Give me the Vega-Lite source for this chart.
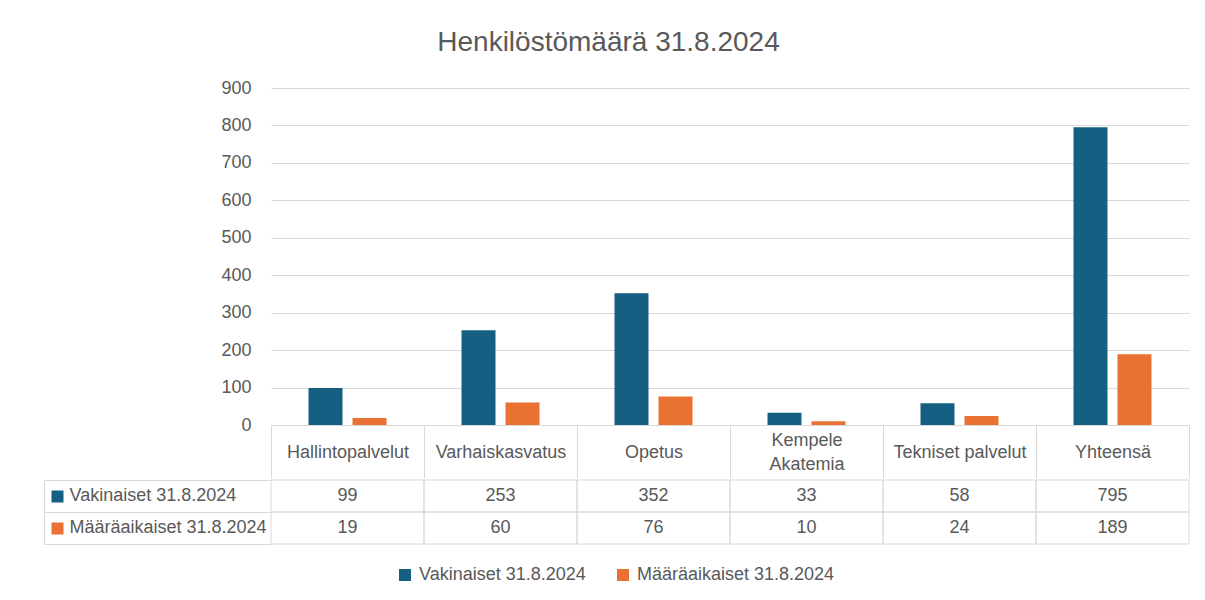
{
  "$schema": "https://vega.github.io/schema/vega-lite/v6.json",
  "padding": {"left": 43, "top": 29, "right": 5, "bottom": 5},
  "background": "white",
  "config": {
    "font": "Liberation Sans",
    "view": {"stroke": null},
    "axis": {"labelFont": "Liberation Sans"},
    "legend": {"labelFont": "Liberation Sans"}
  },
  "title": {
    "text": "Henkilöstömäärä 31.8.2024",
    "fontSize": 28,
    "fontWeight": "normal",
    "color": "#595959",
    "anchor": "middle",
    "frame": "bounds",
    "offset": 22,
    "dx": -8
  },
  "data": {
    "values": [
      {"category": "Hallintopalvelut", "series": "Vakinaiset 31.8.2024", "value": 99},
      {"category": "Varhaiskasvatus", "series": "Vakinaiset 31.8.2024", "value": 253},
      {"category": "Opetus", "series": "Vakinaiset 31.8.2024", "value": 352},
      {"category": "Kempele Akatemia", "series": "Vakinaiset 31.8.2024", "value": 33},
      {"category": "Tekniset palvelut", "series": "Vakinaiset 31.8.2024", "value": 58},
      {"category": "Yhteensä", "series": "Vakinaiset 31.8.2024", "value": 795},
      {"category": "Hallintopalvelut", "series": "Määräaikaiset 31.8.2024", "value": 19},
      {"category": "Varhaiskasvatus", "series": "Määräaikaiset 31.8.2024", "value": 60},
      {"category": "Opetus", "series": "Määräaikaiset 31.8.2024", "value": 76},
      {"category": "Kempele Akatemia", "series": "Määräaikaiset 31.8.2024", "value": 10},
      {"category": "Tekniset palvelut", "series": "Määräaikaiset 31.8.2024", "value": 24},
      {"category": "Yhteensä", "series": "Määräaikaiset 31.8.2024", "value": 189}
    ]
  },
  "spacing": 0,
  "resolve": {"scale": {"x": "independent", "y": "independent"}},
  "vconcat": [
    {
      "width": 918,
      "height": 337,
      "mark": {"type": "bar"},
      "encoding": {
        "x": {
          "field": "category",
          "type": "nominal",
          "sort": ["Hallintopalvelut", "Varhaiskasvatus", "Opetus", "Kempele Akatemia", "Tekniset palvelut", "Yhteensä"],
          "scale": {"paddingInner": 0, "paddingOuter": 0},
          "axis": {
            "title": null,
            "orient": "bottom",
            "domain": true,
            "domainColor": "#d9d9d9",
            "domainWidth": 1,
            "ticks": true,
            "tickBand": "extent",
            "tickSize": 53,
            "tickColor": "#d9d9d9",
            "tickWidth": 1,
            "labelFontSize": 18,
            "labelColor": "#595959",
            "labelPadding": {
              "condition": {"test": "datum.value === 'Kempele Akatemia'", "value": -38},
              "value": -26
            },
            "labelBaseline": "middle",
            "labelAngle": 0,
            "labelLineHeight": 24,
            "labelExpr": "datum.label == 'Kempele Akatemia' ? ['Kempele', 'Akatemia'] : datum.label",
            "grid": false
          }
        },
        "xOffset": {
          "field": "series",
          "type": "nominal",
          "sort": ["Vakinaiset 31.8.2024", "Määräaikaiset 31.8.2024"],
          "scale": {"paddingInner": 0.2273, "paddingOuter": 0.8523}
        },
        "y": {
          "field": "value",
          "type": "quantitative",
          "scale": {"domain": [0, 900]},
          "axis": {
            "title": null,
            "values": [0, 100, 200, 300, 400, 500, 600, 700, 800, 900],
            "domain": false,
            "ticks": false,
            "labelPadding": 20,
            "labelFontSize": 18,
            "labelColor": "#595959",
            "gridColor": "#d9d9d9",
            "gridWidth": 1
          }
        },
        "color": {
          "field": "series",
          "type": "nominal",
          "sort": ["Vakinaiset 31.8.2024", "Määräaikaiset 31.8.2024"],
          "scale": {
            "domain": ["Vakinaiset 31.8.2024", "Määräaikaiset 31.8.2024"],
            "range": ["#156082", "#E97132"]
          },
          "legend": {
            "title": null,
            "orient": "none",
            "legendX": 125,
            "legendY": 478,
            "direction": "horizontal",
            "symbolType": "square",
            "symbolSize": 144,
            "symbolStrokeWidth": 0,
            "labelFontSize": 18,
            "labelColor": "#595959",
            "labelLimit": 300,
            "columnPadding": 28,
            "labelOffset": 5
          }
        }
      }
    },
    {
      "width": 918,
      "height": 64,
      "resolve": {"axis": {"y": "independent"}},
      "layer": [
        {
          "mark": {"type": "rect", "fill": "transparent", "stroke": "#d9d9d9", "strokeWidth": 1},
          "encoding": {
            "x": {
              "field": "category",
              "type": "nominal",
              "sort": ["Hallintopalvelut", "Varhaiskasvatus", "Opetus", "Kempele Akatemia", "Tekniset palvelut", "Yhteensä"],
              "scale": {"paddingInner": 0, "paddingOuter": 0},
              "axis": null
            },
            "y": {
              "field": "series",
              "type": "nominal",
              "sort": ["Vakinaiset 31.8.2024", "Määräaikaiset 31.8.2024"],
              "scale": {"paddingInner": 0, "paddingOuter": 0},
              "axis": {
                "title": null,
                "orient": "left",
                "offset": 227,
                "domain": true,
                "domainColor": "#d9d9d9",
                "domainWidth": 1,
                "ticks": true,
                "tickBand": "extent",
                "tickSize": -227,
                "tickColor": "#d9d9d9",
                "tickWidth": 1,
                "labels": false,
                "grid": false,
                "minExtent": 0
              }
            }
          }
        },
        {
          "mark": {"type": "text", "fontSize": 18, "fill": "#595959"},
          "encoding": {
            "x": {
              "field": "category",
              "type": "nominal",
              "sort": ["Hallintopalvelut", "Varhaiskasvatus", "Opetus", "Kempele Akatemia", "Tekniset palvelut", "Yhteensä"],
              "axis": null
            },
            "y": {
              "field": "series",
              "type": "nominal",
              "sort": ["Vakinaiset 31.8.2024", "Määräaikaiset 31.8.2024"],
              "axis": {
                "title": null,
                "orient": "left",
                "offset": 208,
                "domain": false,
                "grid": false,
                "ticks": true,
                "tickSize": 12,
                "tickWidth": 12,
                "tickColor": {
                  "condition": {"test": "datum.value === 'Vakinaiset 31.8.2024'", "value": "#156082"},
                  "value": "#E97132"
                },
                "labelAlign": "left",
                "labelPadding": -18,
                "labelFontSize": 18,
                "labelColor": "#595959",
                "labelBaseline": "middle",
                "labelLimit": 300,
                "minExtent": 0
              }
            },
            "text": {"field": "value", "type": "quantitative"}
          }
        }
      ]
    }
  ]
}
